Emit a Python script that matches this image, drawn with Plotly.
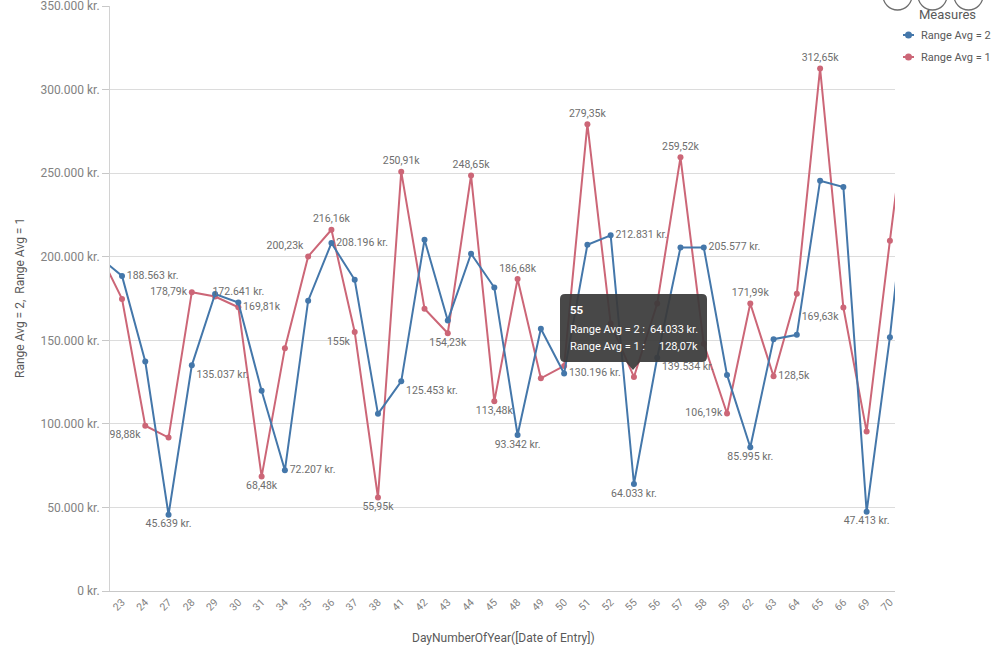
import plotly.graph_objects as go

# ---------------- data ----------------
days = ["22", "23", "24", "27", "28", "29", "30", "31", "34", "35", "36", "37", "38",
        "41", "42", "43", "44", "45", "48", "49", "50", "51", "52", "55", "56", "57",
        "58", "59", "62", "63", "64", "65", "66", "69", "70", "71"]

range_avg_2 = [200000, 188563, 137300, 45639, 135037, 177700, 172641, 119800, 72207,
               173700, 208196, 186200, 106000, 125453, 210200, 161900, 201800, 181600,
               93342, 156900, 130196, 207200, 212831, 64033, 139534, 205600, 205577,
               129300, 85995, 150700, 153300, 245500, 241700, 47413, 151900, 280000]

range_avg_1 = [203000, 174800, 98880, 91800, 178790, 176200, 169810, 68480, 145300,
               200230, 216160, 155000, 55950, 250910, 168900, 154230, 248650, 113480,
               186680, 127300, 134700, 279350, 160000, 128070, 172000, 259520, 148000,
               106190, 171990, 128500, 177800, 312650, 169630, 95400, 209600, 320000]

y_tick_values = [0, 50000, 100000, 150000, 200000, 250000, 300000, 350000]
y_tick_labels = ["0 kr.", "50.000 kr.", "100.000 kr.", "150.000 kr.", "200.000 kr.",
                 "250.000 kr.", "300.000 kr.", "350.000 kr."]

tooltip_day = "55"

# ---------------- styling ----------------
BLUE = "#4477aa"
RED = "#cc6677"
LABEL_COLOR = "#6e6e6e"
TICK_COLOR = "#828282"
TITLE_COLOR = "#595959"
FONT = "Roboto"

# label positions for labelled points (style only)
blue_label_pos = {"23": "middle right", "27": "bottom center", "28": "bottom right",
                  "30": "top center", "34": "middle right", "36": "middle right",
                  "41": "bottom right", "48": "bottom center", "50": "middle right",
                  "52": "middle right", "55": "bottom center", "56": "bottom right",
                  "58": "middle right", "62": "bottom center", "69": "bottom center"}
red_label_pos = {"24": "bottom left", "28": "middle left", "30": "middle right",
                 "31": "bottom center", "35": "top left", "36": "top center",
                 "37": "bottom left", "38": "bottom center", "41": "top center",
                 "43": "bottom center", "44": "top center", "45": "bottom center",
                 "48": "top center", "51": "top center", "57": "top center",
                 "59": "middle left", "62": "top center", "63": "middle right",
                 "65": "top center", "66": "bottom left"}


def fmt_kr(v):
    return f"{v:,.0f}".replace(",", ".") + " kr."


def fmt_k(v):
    s = f"{v / 1000:.2f}".rstrip("0").rstrip(".")
    return s.replace(".", ",") + "k"


blue_text = [fmt_kr(v) if d in blue_label_pos else "" for d, v in zip(days, range_avg_2)]
blue_pos = [blue_label_pos.get(d, "top center") for d in days]
red_text = [fmt_k(v) if d in red_label_pos else "" for d, v in zip(days, range_avg_1)]
red_pos = [red_label_pos.get(d, "top center") for d in days]

fig = go.Figure()
fig.add_trace(go.Scatter(
    x=days, y=range_avg_1, mode="lines+markers+text", name="Range Avg = 1",
    line=dict(color=RED, width=2), marker=dict(color=RED, size=6),
    text=red_text, textposition=red_pos,
    textfont=dict(family=FONT, size=10.5, color=LABEL_COLOR),
    cliponaxis=True, hoverinfo="skip", showlegend=False))
fig.add_trace(go.Scatter(
    x=days, y=range_avg_2, mode="lines+markers+text", name="Range Avg = 2",
    line=dict(color=BLUE, width=2), marker=dict(color=BLUE, size=6),
    text=blue_text, textposition=blue_pos,
    textfont=dict(family=FONT, size=10.5, color=LABEL_COLOR),
    cliponaxis=True, hoverinfo="skip", showlegend=False))

# ---------------- geometry ----------------
W, H = 999, 650
PL, PR, PT, PB = 110, 895, 6, 591


def px(x):
    return (x - PL) / (PR - PL)


def py(y):
    return (PB - y) / (PB - PT)


first_idx = days.index("23")
step = 23.27
x_lo = first_idx - 12 / step
x_hi = first_idx + (PR - 122) / step

annotations = []
shapes = []

# axis titles
annotations.append(dict(text="DayNumberOfYear([Date of Entry])", xref="paper", yref="paper",
                        x=px(503), y=py(638), showarrow=False, xanchor="center", yanchor="middle",
                        font=dict(family=FONT, size=12, color=TITLE_COLOR)))
annotations.append(dict(text="Range Avg = 2,  Range Avg = 1", xref="paper", yref="paper",
                        x=px(20), y=py(298), showarrow=False, xanchor="center", yanchor="middle",
                        textangle=-90, font=dict(family=FONT, size=12, color=TITLE_COLOR)))

# tooltip
tx0, tx1, ty0, ty1, r = 560, 707, 294, 362, 5
TT = "rgba(58,58,58,0.93)"


def pp(x, y):
    return f"{px(x)},{py(y)}"


path = (f"M{pp(tx0 + r, ty0)} L{pp(tx1 - r, ty0)} Q{pp(tx1, ty0)} {pp(tx1, ty0 + r)} "
        f"L{pp(tx1, ty1 - r)} Q{pp(tx1, ty1)} {pp(tx1 - r, ty1)} "
        f"L{pp(640, ty1)} L{pp(633, ty1 + 8)} L{pp(626, ty1)} "
        f"L{pp(tx0 + r, ty1)} Q{pp(tx0, ty1)} {pp(tx0, ty1 - r)} "
        f"L{pp(tx0, ty0 + r)} Q{pp(tx0, ty0)} {pp(tx0 + r, ty0)} Z")
shapes.append(dict(type="path", xref="paper", yref="paper", path=path,
                   fillcolor=TT, line=dict(width=0), layer="above"))
ti = days.index(tooltip_day)
annotations.append(dict(text=f"<b>{tooltip_day}</b>", xref="paper", yref="paper",
                        x=px(568), y=py(310), showarrow=False, xanchor="left", yanchor="middle",
                        font=dict(family=FONT, size=11.5, color="white")))
for row, (nm, val) in enumerate([("Range Avg = 2 :", fmt_kr(range_avg_2[ti])),
                                 ("Range Avg = 1 :", fmt_k(range_avg_1[ti]))]):
    yy = 329 + row * 18
    annotations.append(dict(text=nm, xref="paper", yref="paper", x=px(568), y=py(yy),
                            showarrow=False, xanchor="left", yanchor="middle",
                            font=dict(family=FONT, size=11, color="white")))
    annotations.append(dict(text=val, xref="paper", yref="paper", x=px(700), y=py(yy),
                            showarrow=False, xanchor="right", yanchor="middle",
                            font=dict(family=FONT, size=11, color="white")))

# legend (manual)
annotations.append(dict(text="Measures", xref="paper", yref="paper", x=px(917), y=py(15),
                        showarrow=False, xanchor="left", yanchor="middle",
                        font=dict(family=FONT, size=13, color=TITLE_COLOR)))
for row, (nm, col) in enumerate([("Range Avg = 2", BLUE), ("Range Avg = 1", RED)]):
    yy = 35 + row * 22
    shapes.append(dict(type="line", xref="paper", yref="paper", x0=px(903), x1=px(914),
                       y0=py(yy), y1=py(yy), line=dict(color=col, width=2)))
    shapes.append(dict(type="circle", xref="paper", yref="paper", x0=px(905), x1=px(912),
                       y0=py(yy + 3.5), y1=py(yy - 3.5), fillcolor=col, line=dict(width=0)))
    annotations.append(dict(text=nm, xref="paper", yref="paper", x=px(919), y=py(yy),
                            showarrow=False, xanchor="left", yanchor="middle",
                            font=dict(family=FONT, size=11, color=TITLE_COLOR)))

# toolbar circles at top right
for cx in (897.5, 932.5, 968.5):
    shapes.append(dict(type="circle", xref="paper", yref="paper", x0=px(cx - 14.5),
                       x1=px(cx + 14.5), y0=py(10), y1=py(-19),
                       line=dict(color="#6e6e6e", width=1.3), fillcolor="white"))

fig.update_layout(
    width=W, height=H, autosize=False,
    margin=dict(l=PL, r=W - PR, t=PT, b=H - PB, pad=0),
    paper_bgcolor="white", plot_bgcolor="white",
    font=dict(family=FONT, color=TICK_COLOR),
    showlegend=False,
    annotations=annotations, shapes=shapes,
    xaxis=dict(type="category", categoryorder="array", categoryarray=days,
               range=[x_lo, x_hi], showgrid=False, zeroline=False,
               showline=True, linecolor="#c8c8c8", linewidth=1,
               ticks="", tickangle=-45, automargin=False,
               tickfont=dict(family=FONT, size=10.5, color=TICK_COLOR)),
    yaxis=dict(range=[0, 350050], tickvals=y_tick_values, ticktext=y_tick_labels,
               showgrid=True, gridcolor="#dcdcdc", gridwidth=1, zeroline=False,
               showline=True, linecolor="#d2d2d2", linewidth=1,
               ticks="outside", ticklen=7, tickcolor="#c8c8c8", automargin=False,
               ticklabeloverflow="allow",
               tickfont=dict(family=FONT, size=12, color=TICK_COLOR)),
)

fig.write_html("out.html", config={"displayModeBar": False},
               post_script="document.body.style.margin='0';document.body.style.overflow='hidden';")
